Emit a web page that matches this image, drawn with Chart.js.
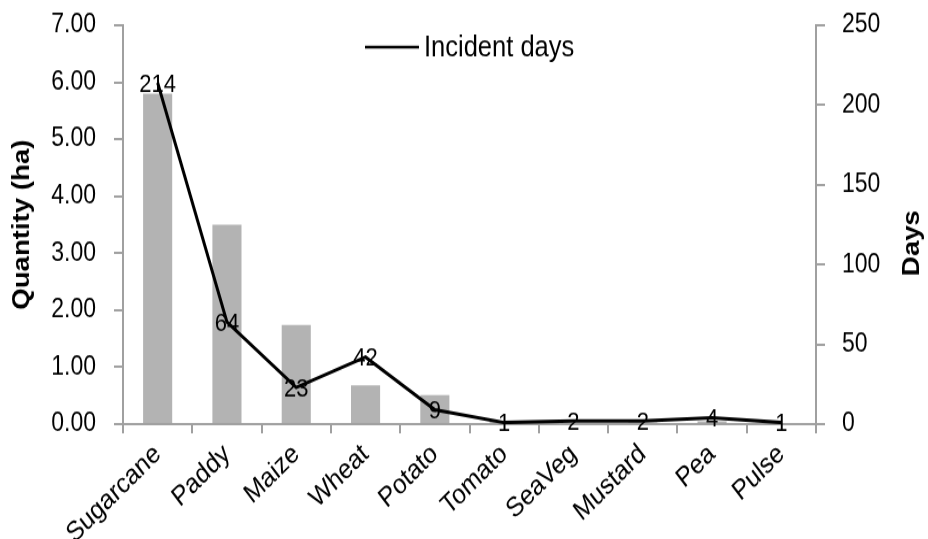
<!DOCTYPE html>
<html>
<head>
<meta charset="utf-8">
<script src="https://cdn.jsdelivr.net/npm/chart.js@4/dist/chart.umd.min.js"></script>
<style>
  html, body { margin: 0; padding: 0; background: #fff; }
  #outer { width: 928px; height: 539px; position: relative; }
  #wrap { position: absolute; left: 0; top: 0; width: 928px; height: 469px; transform-origin: 0 0; transform: scale(1, 1.1493); }
</style>
</head>
<body>
<div id="outer"><div id="wrap"><canvas id="c" width="928" height="469"></canvas></div></div>
<script>
const categories = ["Sugarcane", "Paddy", "Maize", "Wheat", "Potato", "Tomato", "SeaVeg", "Mustard", "Pea", "Pulse"];
const quantityHa = [5.80, 3.50, 1.74, 0.68, 0.51, 0.05, 0.02, 0.03, 0.05, 0.02];
const incidentDays = [214, 64, 23, 42, 9, 1, 2, 2, 4, 1];
const leftTicks = [0, 1, 2, 3, 4, 5, 6, 7];
const rightTicks = [0, 50, 100, 150, 200, 250];

const FONT = "'Liberation Sans', Arial, sans-serif";
const AXIS = '#a0a0a0';

const labelPlugin = {
  id: 'extras',
  afterDatasetsDraw(chart) {
    const ctx = chart.ctx;
    const meta = chart.getDatasetMeta(1);
    ctx.save();
    ctx.font = '22px ' + FONT;
    ctx.fillStyle = '#000';
    ctx.textAlign = 'center';
    ctx.textBaseline = 'middle';
    meta.data.forEach((pt, i) => {
      ctx.fillText(String(incidentDays[i]), pt.x, pt.y + 1.5);
    });
    ctx.restore();
  },
  afterDraw(chart) {
    const ctx = chart.ctx;
    const ca = chart.chartArea;
    ctx.save();
    // legend
    const ly = 41;
    ctx.strokeStyle = '#000';
    ctx.lineWidth = 2.7;
    ctx.beginPath();
    ctx.moveTo(365, ly);
    ctx.lineTo(419, ly);
    ctx.stroke();
    ctx.font = '25.5px ' + FONT;
    ctx.fillStyle = '#000';
    ctx.textAlign = 'left';
    ctx.textBaseline = 'middle';
    ctx.fillText(chart.data.datasets[1].label, 424, ly + 1);
    // right axis title, reading bottom-to-top
    ctx.translate(912, (ca.top + ca.bottom) / 2 + 16);
    ctx.rotate(-Math.PI / 2);
    ctx.font = 'bold 24px ' + FONT;
    ctx.textAlign = 'center';
    ctx.fillText('Days', 0, 0);
    ctx.restore();
  }
};

function noPadY(s) { s.paddingTop = 0; s.paddingBottom = 0; }

new Chart(document.getElementById('c'), {
  type: 'bar',
  data: {
    labels: categories,
    datasets: [
      {
        type: 'bar',
        label: 'Quantity (ha)',
        data: quantityHa,
        yAxisID: 'y',
        backgroundColor: '#b3b3b3',
        borderWidth: 0,
        categoryPercentage: 1.0,
        barPercentage: 0.42,
        order: 2
      },
      {
        type: 'line',
        label: 'Incident days',
        data: incidentDays,
        yAxisID: 'y1',
        borderColor: '#000',
        backgroundColor: '#000',
        borderWidth: 3,
        pointRadius: 0,
        tension: 0,
        fill: false,
        order: 1
      }
    ]
  },
  options: {
    responsive: false,
    animation: false,
    layout: { padding: { top: 22, left: 0, right: 0, bottom: 0 } },
    plugins: {
      legend: { display: false },
      tooltip: { enabled: false }
    },
    scales: {
      x: {
        offset: true,
        grid: { offset: true, drawOnChartArea: false, color: AXIS, tickLength: 8, lineWidth: 2 },
        border: { color: AXIS, width: 2 },
        ticks: { color: '#000', font: { family: FONT, size: 24 }, minRotation: 41, maxRotation: 41, padding: 4, autoSkip: false },
        afterFit(s) { s.height = 100; s.paddingLeft = 0; s.paddingRight = 0; }
      },
      y: {
        position: 'left',
        min: 0, max: 7,
        afterBuildTicks(s) { s.ticks = leftTicks.map(v => ({ value: v })); },
        grid: { drawOnChartArea: false, color: AXIS, tickLength: 9, lineWidth: 2 },
        border: { color: AXIS, width: 2 },
        ticks: { color: '#000', font: { family: FONT, size: 23 }, padding: 18, callback: v => Number(v).toFixed(2) },
        title: { display: true, text: 'Quantity (ha)', color: '#000', font: { family: FONT, size: 24, weight: 'bold' }, padding: { top: 8, bottom: 0 } },
        afterFit(s) { s.width = 123; noPadY(s); }
      },
      y1: {
        position: 'right',
        min: 0, max: 250,
        afterBuildTicks(s) { s.ticks = rightTicks.map(v => ({ value: v })); },
        grid: { drawOnChartArea: false, color: AXIS, tickLength: 9, lineWidth: 2 },
        border: { color: AXIS, width: 2 },
        ticks: { color: '#000', font: { family: FONT, size: 23 }, padding: 17 },
        afterFit(s) { s.width = 112; noPadY(s); }
      }
    }
  },
  plugins: [labelPlugin]
});
</script>
</body>
</html>
